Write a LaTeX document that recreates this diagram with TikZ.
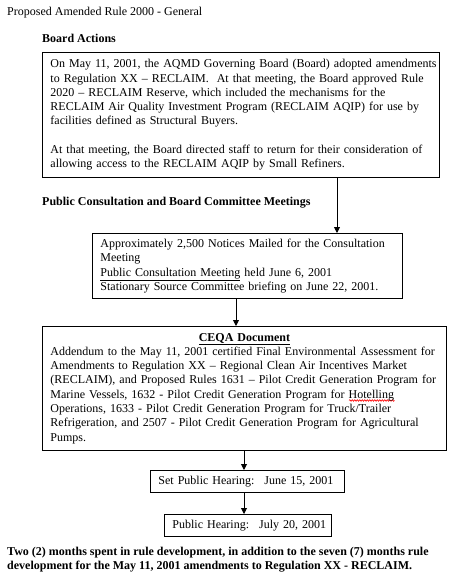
\documentclass[tikz,border=0pt]{standalone}
\usepackage{fontspec}
\setmainfont{Liberation Serif}
\usetikzlibrary{arrows.meta,decorations.pathmorphing}
\newcommand\fs{\fontsize{12}{14.3}\selectfont}
\newlength\rwlen
\newcommand\redwave[1]{\settowidth\rwlen{#1}\rlap{\tikz[baseline=0pt,x=1pt,y=1pt]{\draw[red, line width=0.6pt, decorate, decoration={snake,amplitude=0.8pt,segment length=2.5pt}] (0,-2.2) -- (\rwlen,-2.2);}}#1}
\tikzset{
  box/.style={draw, line width=0.9pt, anchor=north west, inner xsep=8pt, inner ysep=0pt, align=left, font=\fs},
  lbl/.style={anchor=west, inner sep=0pt, font=\fs},
  hdr/.style={anchor=west, inner sep=0pt, font=\fs\bfseries},
  arr/.style={line width=0.9pt, -{Triangle[length=6pt,width=6pt]}}
}
\begin{document}
\begin{tikzpicture}[x=1pt,y=-1pt]
\useasboundingbox (0,0) rectangle (470,583);
\node[lbl] (title) at (7,13) {Proposed Amended Rule 2000 - General};
\node[hdr] (h1) at (42,38) {Board Actions};
\node[box, text width=381pt, minimum height=125pt] (b1) at (42,52) {\mbox{On May 11, 2001, the AQMD Governing Board (Board) adopted amendments}\\
\mbox{to Regulation XX -- RECLAIM.~ At that meeting, the Board approved Rule}\\
2020 -- RECLAIM Reserve, which included the mechanisms for the\\
\mbox{RECLAIM Air Quality Investment Program (RECLAIM AQIP) for use by}\\
facilities defined as Structural Buyers.\\[14.3pt]
\mbox{At that meeting, the Board directed staff to return for their consideration of}\\
allowing access to the RECLAIM AQIP by Small Refiners.};
\node[hdr] (h2) at (42,203) {Public Consultation and Board Committee Meetings};
\node[box, text width=294pt, minimum height=65pt] (b2) at (92,233) {\mbox{Approximately 2,500 Notices Mailed for the Consultation}\\
Meeting\\
\underline{Public Consultation Meeting} held June 6, 2001\\
\mbox{Stationary Source Committee briefing on June 22, 2001.}};
\node[box, text width=388pt, minimum height=124pt] (b3) at (42,326) {\makebox[\linewidth]{\bfseries\underline{CEQA Document}}\\
\mbox{Addendum to the May 11, 2001 certified Final Environmental Assessment for}\\
\mbox{Amendments to Regulation XX -- Regional Clean Air Incentives Market}\\
\mbox{(RECLAIM), and Proposed Rules 1631 -- Pilot Credit Generation Program for}\\
\mbox{Marine Vessels, 1632 - Pilot Credit Generation Program for \redwave{Hotelling}}\\
\mbox{Operations, 1633 - Pilot Credit Generation Program for Truck/Trailer}\\
\mbox{Refrigeration, and 2507 - Pilot Credit Generation Program for Agricultural}\\
Pumps.};
\node[box, text width=178pt, minimum height=22pt] (b4) at (150,470) {\mbox{Set Public Hearing:~ June 15, 2001}};
\node[box, text width=151pt, minimum height=22pt] (b5) at (164,514) {\mbox{Public Hearing:~ July 20, 2001}};
\node[hdr, align=left] (foot) at (7,559.5) {Two (2) months spent in rule development, in addition to the seven (7) months rule\\
development for the May 11, 2001 amendments to Regulation XX - RECLAIM.};
\coordinate (xa) at (337,0);
\coordinate (xb) at (236,0);
\coordinate (xc) at (244,0);
\draw[arr] (b1.south -| xa) -- (b2.north -| xa);
\draw[arr] (b2.south -| xb) -- (b3.north -| xb);
\draw[arr] (b3.south -| xc) -- (b4.north -| xc);
\draw[arr] (b4.south -| xc) -- (b5.north -| xc);
\end{tikzpicture}
\end{document}
